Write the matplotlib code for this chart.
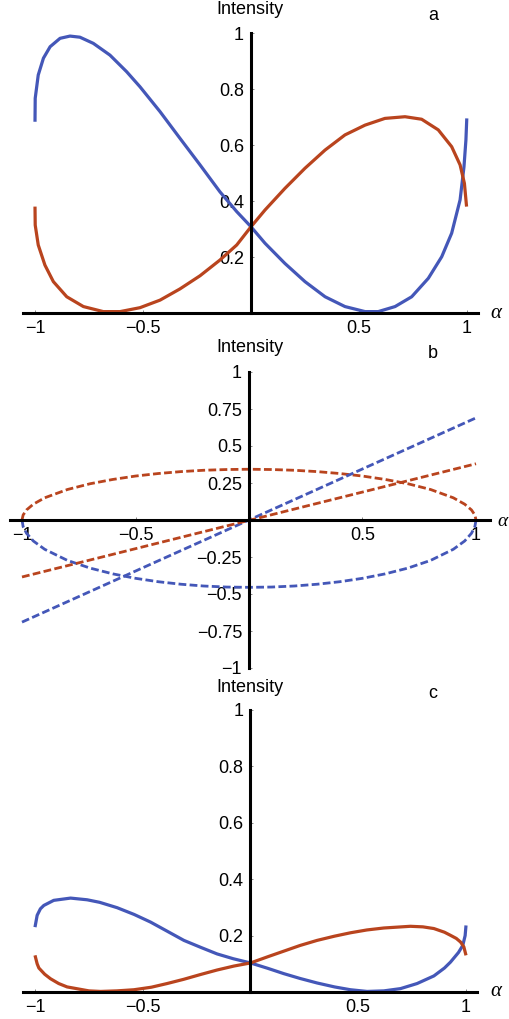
import matplotlib
matplotlib.use("Agg")
import matplotlib.pyplot as plt

plt.rcParams['font.family'] = ['Liberation Sans', 'DejaVu Sans']

# ---------------- data ----------------
# panel a
a_blue_x = [-1.0, -0.999, -0.985, -0.961, -0.93, -0.884, -0.838, -0.792, -0.73, -0.653,
            -0.576, -0.514, -0.421, -0.329, -0.236, -0.144, -0.066, 0.0, 0.065, 0.157,
            0.25, 0.343, 0.435, 0.528, 0.589, 0.667, 0.744, 0.821, 0.883, 0.929,
            0.968, 0.986, 0.995, 0.999]
a_blue_y = [0.683, 0.767, 0.85, 0.91, 0.951, 0.981, 0.989, 0.985, 0.963, 0.921,
            0.862, 0.808, 0.719, 0.624, 0.529, 0.433, 0.362, 0.308, 0.249, 0.177,
            0.112, 0.058, 0.023, 0.005, 0.005, 0.023, 0.058, 0.124, 0.201, 0.285,
            0.404, 0.522, 0.618, 0.695]
a_red_x = [-1.0, -0.999, -0.985, -0.954, -0.915, -0.853, -0.776, -0.684, -0.606, -0.514,
           -0.421, -0.329, -0.236, -0.144, -0.066, 0.0, 0.065, 0.157, 0.25, 0.343,
           0.435, 0.528, 0.62, 0.713, 0.79, 0.867, 0.929, 0.968, 0.988, 0.998]
a_red_y = [0.38, 0.314, 0.243, 0.171, 0.112, 0.058, 0.023, 0.005, 0.005, 0.019,
           0.046, 0.086, 0.133, 0.189, 0.243, 0.308, 0.368, 0.445, 0.517, 0.582,
           0.636, 0.671, 0.695, 0.701, 0.692, 0.654, 0.594, 0.529, 0.463, 0.38]

# panel b
b_ell_x = [-1.0, -0.995, -0.98, -0.95, -0.9, -0.8, -0.7, -0.6, -0.5, -0.4, -0.3, -0.2, -0.1, 0.0,
           0.1, 0.2, 0.3, 0.4, 0.5, 0.6, 0.7, 0.8, 0.9, 0.95, 0.98, 0.995, 1.0]
b_ell_upper = [0.0, 0.034, 0.068, 0.107, 0.150, 0.206, 0.245, 0.274, 0.297, 0.314, 0.327, 0.336, 0.341, 0.343,
               0.341, 0.336, 0.327, 0.314, 0.297, 0.274, 0.245, 0.206, 0.150, 0.107, 0.068, 0.034, 0.0]
b_ell_lower = [0.0, -0.045, -0.090, -0.142, -0.198, -0.273, -0.325, -0.364, -0.394, -0.417, -0.434, -0.446, -0.453, -0.455,
               -0.453, -0.446, -0.434, -0.417, -0.394, -0.364, -0.325, -0.273, -0.198, -0.142, -0.090, -0.045, 0.0]
b_line_x = [-1.0, 1.0]
b_blue_line_y = [-0.69, 0.69]
b_red_line_y = [-0.385, 0.38]

# panel c
c_blue_x = [-1.0, -0.99, -0.975, -0.959, -0.913, -0.835, -0.758, -0.70, -0.619, -0.54,
            -0.464, -0.39, -0.309, -0.23, -0.155, -0.08, 0.0, 0.08, 0.155, 0.23,
            0.309, 0.39, 0.464, 0.541, 0.619, 0.696, 0.773, 0.851, 0.90, 0.928,
            0.965, 0.985, 0.996, 1.0]
c_blue_y = [0.23, 0.272, 0.295, 0.307, 0.325, 0.333, 0.327, 0.318, 0.299, 0.275,
            0.248, 0.217, 0.183, 0.158, 0.135, 0.118, 0.103, 0.084, 0.065, 0.048,
            0.032, 0.018, 0.008, 0.002, 0.004, 0.012, 0.03, 0.057, 0.085, 0.106,
            0.14, 0.165, 0.2, 0.236]
c_red_x = [-1.0, -0.99, -0.982, -0.955, -0.928, -0.89, -0.851, -0.75, -0.696, -0.62,
           -0.541, -0.46, -0.387, -0.31, -0.232, -0.155, -0.077, 0.0, 0.08, 0.155,
           0.23, 0.309, 0.39, 0.464, 0.54, 0.619, 0.742, 0.80, 0.851, 0.90,
           0.928, 0.955, 0.975, 0.99, 1.0]
c_red_y = [0.13, 0.1, 0.085, 0.063, 0.047, 0.03, 0.018, 0.004, 0.002, 0.004,
           0.008, 0.017, 0.03, 0.045, 0.062, 0.078, 0.092, 0.103, 0.125, 0.145,
           0.165, 0.183, 0.198, 0.21, 0.22, 0.227, 0.233, 0.231, 0.225, 0.212,
           0.201, 0.19, 0.177, 0.16, 0.13]

xtick_vals = [-1, -0.5, 0.5, 1]
xtick_labels = ['\u22121', '\u22120.5', '0.5', '1']
ytick_vals_ac = [0.2, 0.4, 0.6, 0.8, 1]
ytick_labels_ac = ['0.2', '0.4', '0.6', '0.8', '1']
ytick_vals_b = [-1, -0.75, -0.5, -0.25, 0.25, 0.5, 0.75, 1]
ytick_labels_b = ['\u22121', '\u22120.75', '\u22120.5', '\u22120.25', '0.25', '0.5', '0.75', '1']

BLUE = '#4457B8'
RED = '#B9441E'

W, H = 510, 1019
fig = plt.figure(figsize=(W / 100, H / 100), dpi=100)


def make_axes(x0, sx, y0, sy, xlim, ylim):
    left = x0 + sx * xlim[0]
    right = x0 + sx * xlim[1]
    top = y0 - sy * ylim[1]
    bottom = y0 - sy * ylim[0]
    ax = fig.add_axes([left / W, 1 - bottom / H, (right - left) / W, (bottom - top) / H])
    ax.set_xlim(*xlim)
    ax.set_ylim(*ylim)
    ax.patch.set_visible(False)
    for s in ['top', 'right']:
        ax.spines[s].set_visible(False)
    ax.spines['left'].set_position(('data', 0))
    ax.spines['bottom'].set_position(('data', 0))
    for s in ['left', 'bottom']:
        ax.spines[s].set_linewidth(2.2)
        ax.spines[s].set_color('black')
    ax.tick_params(direction='in', length=2.5, width=0.6, color='0.45', pad=5, labelsize=13)
    return ax


def ftext(xp, yp, s, **kw):
    fig.text(xp / W, 1 - yp / H, s, **kw)


line_kw = dict(lw=2.3, solid_capstyle='butt', solid_joinstyle='round')

# ---- panel a ----
ax = make_axes(251, 216, 313, 280, (-1.1, 1.1), (-0.1, 1.1))
ax.spines['bottom'].set_bounds(-1.056, 1.051)
ax.spines['left'].set_bounds(0, 1)
ax.set_xticks(xtick_vals, xtick_labels)
ax.set_yticks(ytick_vals_ac, ytick_labels_ac)
ax.plot(a_blue_x, a_blue_y, color=BLUE, **line_kw)
ax.plot(a_red_x, a_red_y, color=RED, **line_kw)
ftext(250, 10, 'Intensity', ha='center', va='center', fontsize=13)
ftext(433, 16, 'a', ha='center', va='center', fontsize=13)
ftext(496, 313, '\u03b1', ha='center', va='center', fontsize=15, style='italic',
      family=['Liberation Serif', 'DejaVu Serif'])

# ---- panel b ----
ax = make_axes(249, 227, 520, 148, (-1.1, 1.1), (-1.05, 1.15))
ax.spines['bottom'].set_bounds(-1.053, 1.062)
ax.spines['left'].set_bounds(-1, 1)
ax.set_xticks(xtick_vals, xtick_labels)
ax.set_yticks(ytick_vals_b, ytick_labels_b)
dash = (0, (2.8, 1.2))
ax.plot(b_ell_x, b_ell_upper, color=RED, lw=2.0, linestyle=dash)
ax.plot(b_ell_x, b_ell_lower, color=BLUE, lw=2.0, linestyle=dash)
ax.plot(b_line_x, b_blue_line_y, color=BLUE, lw=2.0, linestyle=dash)
ax.plot(b_line_x, b_red_line_y, color=RED, lw=2.0, linestyle=dash)
ftext(250, 348, 'Intensity', ha='center', va='center', fontsize=13)
ftext(433, 354, 'b', ha='center', va='center', fontsize=13)
ftext(497, 521, '\u03b1', ha='left', va='center', fontsize=14, style='italic',
      family=['Liberation Serif', 'DejaVu Serif'])

# ---- panel c ----
ax = make_axes(250.5, 215.5, 992, 282, (-1.1, 1.1), (-0.09, 1.1))
ax.spines['bottom'].set_bounds(-1.057, 1.053)
ax.spines['left'].set_bounds(0, 1)
ax.set_xticks(xtick_vals, xtick_labels)
ax.set_yticks(ytick_vals_ac, ytick_labels_ac)
ax.plot(c_blue_x, c_blue_y, color=BLUE, **line_kw)
ax.plot(c_red_x, c_red_y, color=RED, **line_kw)
ftext(250, 688, 'Intensity', ha='center', va='center', fontsize=13)
ftext(433, 694, 'c', ha='center', va='center', fontsize=13)
ftext(496, 992, '\u03b1', ha='center', va='center', fontsize=15, style='italic',
      family=['Liberation Serif', 'DejaVu Serif'])

fig.savefig('out.png', dpi=100)
